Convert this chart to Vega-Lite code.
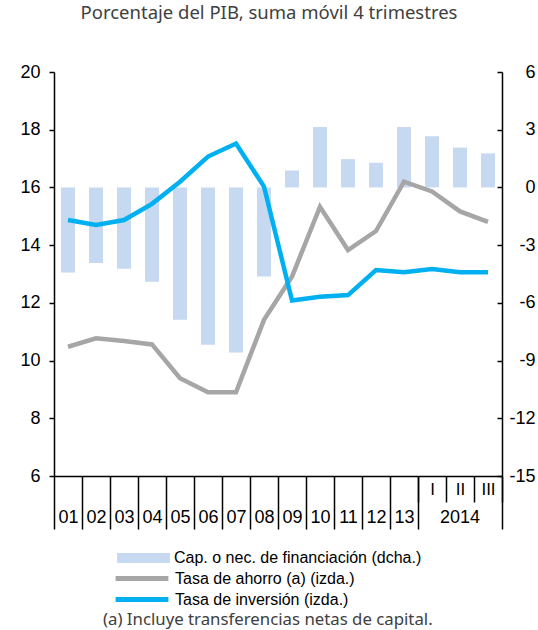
{
  "$schema": "https://vega.github.io/schema/vega-lite/v6.json",
  "width": 448,
  "height": 404,
  "autosize": {"type": "none"},
  "padding": {"left": 54, "top": 72, "right": 36, "bottom": 154},
  "background": "white",
  "config": {"view": {"stroke": null}},
  "title": {
    "text": "Porcentaje del PIB, suma móvil 4 trimestres",
    "font": "Noto Sans",
    "fontSize": 18.5,
    "fontWeight": "normal",
    "color": "#404040",
    "anchor": "middle",
    "frame": "group",
    "baseline": "alphabetic",
    "dx": -9,
    "offset": 26
  },
  "data": {
    "values": [
      {"q": "01", "cap": -4.42, "ahorro": 10.48, "inversion": 14.87},
      {"q": "02", "cap": -3.93, "ahorro": 10.77, "inversion": 14.70},
      {"q": "03", "cap": -4.23, "ahorro": 10.68, "inversion": 14.87},
      {"q": "04", "cap": -4.90, "ahorro": 10.56, "inversion": 15.43},
      {"q": "05", "cap": -6.88, "ahorro": 9.39, "inversion": 16.20},
      {"q": "06", "cap": -8.18, "ahorro": 8.90, "inversion": 17.07},
      {"q": "07", "cap": -8.58, "ahorro": 8.90, "inversion": 17.52},
      {"q": "08", "cap": -4.63, "ahorro": 11.41, "inversion": 16.03},
      {"q": "09", "cap": 0.88, "ahorro": 12.91, "inversion": 12.08},
      {"q": "10", "cap": 3.14, "ahorro": 15.33, "inversion": 12.21},
      {"q": "11", "cap": 1.47, "ahorro": 13.83, "inversion": 12.27},
      {"q": "12", "cap": 1.28, "ahorro": 14.49, "inversion": 13.14},
      {"q": "13", "cap": 3.14, "ahorro": 16.20, "inversion": 13.06},
      {"q": "I", "cap": 2.66, "ahorro": 15.86, "inversion": 13.17},
      {"q": "II", "cap": 2.07, "ahorro": 15.17, "inversion": 13.06},
      {"q": "III", "cap": 1.77, "ahorro": 14.81, "inversion": 13.06}
    ]
  },
  "layer": [
    {
      "mark": {"type": "bar", "width": {"band": 0.5}},
      "encoding": {
        "x": {
          "field": "q", "type": "nominal", "sort": null,
          "scale": {"domain": ["01","02","03","04","05","06","07","08","09","10","11","12","13","I","II","III"], "paddingInner": 0, "paddingOuter": 0},
          "axis": {
            "orient": "bottom",
            "title": null,
            "values": ["01","02","03","04","05","06","07","08","09","10","11","12","13","III"],
            "tickBand": "extent",
            "tickSize": 53,
            "tickColor": "black",
            "tickWidth": 1.5,
            "domain": true,
            "domainColor": "black",
            "domainWidth": 1.5,
            "labelExpr": "datum.value == 'III' ? '' : datum.value",
            "labelFont": "Liberation Sans",
            "labelFontSize": 18,
            "labelColor": "black",
            "labelAngle": 0,
            "labelPadding": -21,
            "grid": false
          }
        },
        "y": {
          "field": "cap", "type": "quantitative",
          "scale": {"domain": [-15, 6], "nice": false},
          "axis": {
            "orient": "right",
            "title": null,
            "values": [-15, -12, -9, -6, -3, 0, 3, 6],
            "labelExpr": "'' + datum.value",
            "tickSize": -5,
            "tickColor": "black",
            "tickWidth": 1.5,
            "domainColor": "black",
            "domainWidth": 1.5,
            "labelAlign": "right",
            "labelPadding": 38,
            "labelFont": "Liberation Sans",
            "labelFontSize": 18,
            "labelColor": "black",
            "grid": false
          }
        },
        "fill": {
          "datum": "Cap. o nec. de financiación (dcha.)",
          "scale": {"range": ["#c6d9f0"]},
          "legend": {
            "orient": "none",
            "legendX": 49,
            "legendY": 478,
            "title": null,
            "padding": 0,
            "symbolType": "M-3.3,-0.625H3.3V0.625H-3.3Z",
            "symbolSize": 256,
            "symbolStrokeWidth": 0,
            "symbolOffset": 32.5,
            "labelOffset": 22.5,
            "labelFont": "Liberation Sans",
            "labelFontSize": 16,
            "labelColor": "black",
            "labelLimit": 500
          }
        }
      }
    },
    {
      "mark": {"type": "line", "strokeWidth": 4.5},
      "encoding": {
        "x": {
          "field": "q", "type": "nominal", "sort": null,
          "axis": {
            "orient": "bottom",
            "title": null,
            "values": ["I", "II", "III"],
            "tickBand": "extent",
            "tickSize": 26,
            "tickColor": "black",
            "tickWidth": 1.5,
            "domain": false,
            "labelFont": "Liberation Sans",
            "labelFontSize": 17,
            "labelColor": "black",
            "labelAngle": 0,
            "labelPadding": -21,
            "grid": false
          }
        },
        "y": {
          "field": "ahorro", "type": "quantitative",
          "scale": {"domain": [6, 20], "nice": false},
          "axis": {
            "orient": "left",
            "title": null,
            "values": [6, 8, 10, 12, 14, 16, 18, 20],
            "tickSize": 5,
            "tickColor": "black",
            "tickWidth": 1.5,
            "domainColor": "black",
            "domainWidth": 1.5,
            "labelPadding": 9,
            "labelFont": "Liberation Sans",
            "labelFontSize": 18,
            "labelColor": "black",
            "grid": false
          }
        },
        "stroke": {
          "datum": "Tasa de ahorro (a) (izda.)",
          "scale": {"domain": ["Tasa de ahorro (a) (izda.)", "Tasa de inversión (izda.)"], "range": ["#a6a6a6", "#00b0f0"]},
          "legend": {
            "orient": "none",
            "legendX": 49,
            "legendY": 496,
            "title": "(a) Incluye transferencias netas de capital.",
            "titleOrient": "bottom",
            "titleAnchor": "start",
            "titleFont": "Noto Sans",
            "titleFontSize": 16.8,
            "titleFontWeight": "normal",
            "titleColor": "#404040",
            "titlePadding": 2,
            "titleLimit": 600,
            "padding": 0,
            "rowPadding": -5,
            "symbolType": "M-3.3,0H3.3",
            "symbolSize": 256,
            "symbolStrokeWidth": 5,
            "symbolOffset": 28.5,
            "labelOffset": 22.5,
            "labelFont": "Liberation Sans",
            "labelFontSize": 16,
            "labelColor": "black",
            "labelLimit": 500
          }
        }
      }
    },
    {
      "mark": {"type": "line", "strokeWidth": 4.5},
      "encoding": {
        "x": {
          "field": "q", "type": "nominal", "sort": null,
          "axis": {
            "orient": "bottom",
            "title": null,
            "values": ["II"],
            "ticks": false,
            "domain": false,
            "labelExpr": "'2014'",
            "labelFont": "Liberation Sans",
            "labelFontSize": 18,
            "labelColor": "black",
            "labelAngle": 0,
            "labelPadding": 32,
            "grid": false
          }
        },
        "y": {
          "field": "inversion", "type": "quantitative",
          "scale": {"domain": [6, 20], "nice": false},
          "axis": null
        },
        "stroke": {"datum": "Tasa de inversión (izda.)"}
      }
    }
  ],
  "resolve": {"scale": {"y": "independent"}, "axis": {"x": "independent", "y": "independent"}}
}
